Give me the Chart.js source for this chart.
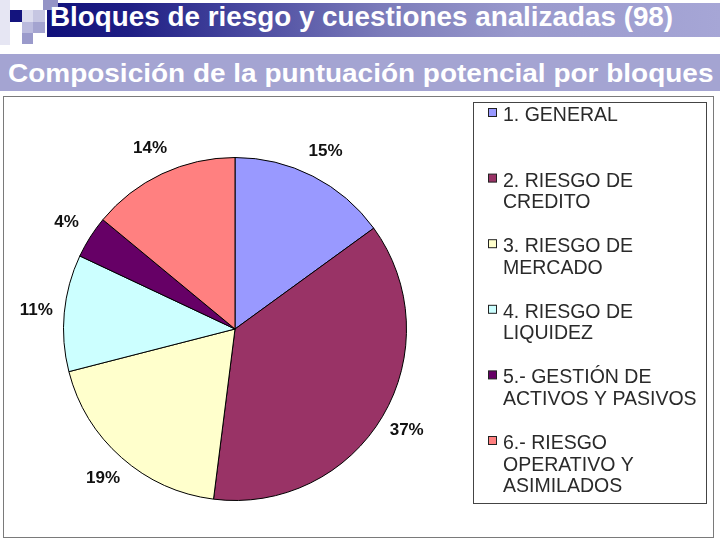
<!DOCTYPE html>
<html>
<head>
<meta charset="utf-8">
<script src="https://cdn.jsdelivr.net/npm/chart.js@4.4.0/dist/chart.umd.min.js"></script>
<style>
body { margin:0; width:720px; height:540px; background:#fff; position:relative; overflow:hidden; font-family:"Liberation Sans", Arial, sans-serif; }
.abs { position:absolute; }
.cuadro { position:absolute; }
.txt { position:absolute; white-space:nowrap; color:#fff; line-height:1; transform-origin:0 0; }
#tbar { left:47px; top:3px; width:673px; height:34px;
  background:linear-gradient(to right, #10107a 0%, #1e1e84 12%, #4a4aa0 30%, #7c7cba 50%, #9999cc 70%, #a6a6d6 100%); }
#sbar { left:0; top:54px; width:720px; height:37px; background:#a4a4d2; }
#marco { left:3px; top:96px; width:709px; height:440px; border:1px solid #7a7a7a; }
</style>
</head>
<body>
<div class="cuadro" style="left:0;top:0;width:10px;height:45px;background:#e6e6f3"></div>
<div class="cuadro" style="left:22px;top:10px;width:11px;height:12px;background:#dcdcee"></div>
<div class="cuadro" style="left:33px;top:10px;width:12px;height:12px;background:#c6c6e2"></div>
<div class="cuadro" style="left:22px;top:22px;width:11px;height:11px;background:#babadd"></div>
<div class="cuadro" style="left:33px;top:22px;width:12px;height:11px;background:#a4a4d0"></div>
<div class="cuadro" style="left:22px;top:33px;width:11px;height:11px;background:#9a9acb"></div>
<div id="tbar" class="abs"></div>
<div class="cuadro" style="left:43px;top:0;width:15px;height:10px;background:#9494c6"></div>
<div class="cuadro" style="left:10px;top:10px;width:12px;height:12px;background:#14147e"></div>
<div id="t1" class="txt" style="left:50px;top:3.3px;font-size:28px;font-weight:bold;">Bloques de riesgo y cuestiones analizadas (98)</div>
<div id="sbar" class="abs"></div>
<div id="t2" class="txt" style="left:8px;top:59.6px;font-size:26.5px;font-weight:bold;">Composición de la puntuación potencial por bloques</div>
<div id="marco" class="abs"><canvas id="grafica" width="709" height="440"></canvas></div>

<script>
// datos del grafico
const categorias = [
  ["1. GENERAL"],
  ["2. RIESGO DE", "CREDITO"],
  ["3. RIESGO DE", "MERCADO"],
  ["4. RIESGO DE", "LIQUIDEZ"],
  ["5.- GESTIÓN DE", "ACTIVOS Y PASIVOS"],
  ["6.- RIESGO", "OPERATIVO Y", "ASIMILADOS"]
];
const porcentajes = [15, 37, 19, 11, 4, 14];
const colores = ['#9999ff', '#993366', '#ffffcc', '#ccffff', '#660066', '#ff8080'];

// ajustar ancho de los titulos
function ajustar(id, ancho) {
  var el = document.getElementById(id);
  el.style.transform = 'scaleX(' + (ancho / el.offsetWidth) + ')';
}
ajustar('t1', 623);
ajustar('t2', 705);

// etiquetas de porcentaje fuera del pastel
const etiquetas = {
  id: 'etiquetas',
  afterDatasetsDraw(chart) {
    const ctx = chart.ctx;
    const arcos = chart.getDatasetMeta(0).data;
    ctx.save();
    ctx.font = 'bold 17px "Liberation Sans", Arial, sans-serif';
    ctx.fillStyle = '#111';
    ctx.textAlign = 'center';
    ctx.textBaseline = 'middle';
    arcos.forEach(function (arco, i) {
      const p = arco.getProps(['x', 'y', 'startAngle', 'endAngle', 'outerRadius'], true);
      const medio = (p.startAngle + p.endAngle) / 2;
      const r = p.outerRadius + 28;
      ctx.fillText(porcentajes[i] + '%', p.x + Math.cos(medio) * r, p.y + Math.sin(medio) * r);
    });
    ctx.restore();
  }
};

// leyenda dibujada a mano
const leyenda = {
  id: 'leyenda',
  afterDraw(chart) {
    const ctx = chart.ctx;
    ctx.save();
    ctx.strokeStyle = '#444';
    ctx.lineWidth = 1;
    ctx.strokeRect(469.5, 5.5, 233, 401);
    ctx.font = '19.5px "Liberation Sans", Arial, sans-serif';
    ctx.textBaseline = 'alphabetic';
    ctx.textAlign = 'left';
    chart.data.labels.forEach(function (lineas, i) {
      const base = 24 + 65.6 * i;
      ctx.fillStyle = chart.data.datasets[0].backgroundColor[i];
      ctx.fillRect(484.5, base - 12.5, 8, 8);
      ctx.strokeStyle = '#222';
      ctx.strokeRect(484.5, base - 12.5, 8, 8);
      ctx.fillStyle = '#2a2a2a';
      lineas.forEach(function (t, j) {
        ctx.fillText(t, 499, base + j * 21.5);
      });
    });
    ctx.restore();
  }
};

new Chart(document.getElementById('grafica'), {
  type: 'pie',
  data: {
    labels: categorias,
    datasets: [{
      data: porcentajes,
      backgroundColor: colores,
      borderColor: '#000',
      borderWidth: 1
    }]
  },
  options: {
    responsive: false,
    animation: false,
    layout: { padding: { left: 59, right: 306, top: 60, bottom: 36 } },
    plugins: {
      legend: { display: false },
      tooltip: { enabled: false }
    }
  },
  plugins: [etiquetas, leyenda]
});
</script>
</body>
</html>
